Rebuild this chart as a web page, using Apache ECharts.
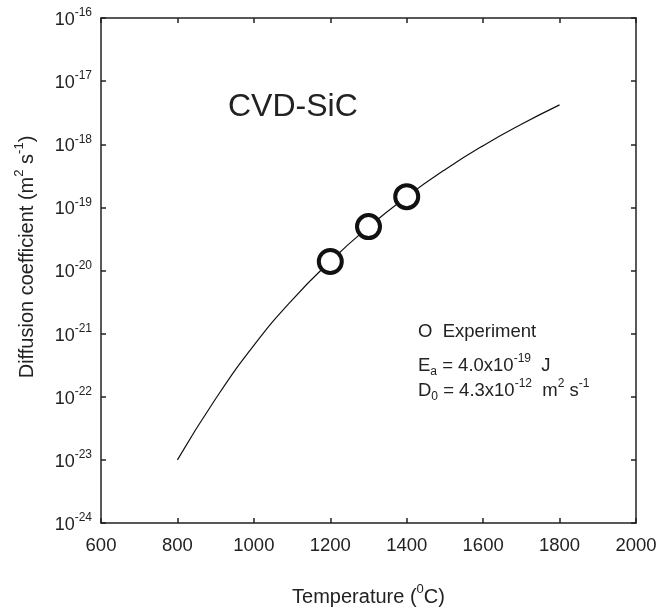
<!DOCTYPE html>
<html>
<head>
<meta charset="utf-8">
<script src="https://cdn.jsdelivr.net/npm/echarts@6/dist/echarts.min.js"></script>
<style>html,body{margin:0;padding:0;background:#fff}#c{width:667px;height:612px}</style>
</head>
<body>
<div id="c"></div>
<script>
// Fitted curve (m^2 s^-1)
const curveT = [800, 900, 1000, 1100, 1200, 1300, 1400, 1500, 1600, 1700, 1800];
const curveD = [1.0e-23, 9.3e-23, 6.5e-22, 3.4e-21, 1.4e-20, 4.9e-20, 1.48e-19, 3.96e-19, 9.5e-19, 2.07e-18, 4.2e-18];
// Experiment points
const expT = [1200, 1300, 1400];
const expD = [1.39e-20, 4.96e-20, 1.48e-19];
// Axis ranges / ticks
const xTicks = [600, 800, 1000, 1200, 1400, 1600, 1800, 2000];
const yExponents = [-24, -23, -22, -21, -20, -19, -18, -17, -16];

// ECharts v6 log axis fails with extents this small, so values are plotted
// in units of 10^yExponents[0] and the labels add that exponent back.
const E0 = yExponents[0];
const SCALE = Math.pow(10, -E0);

const FONT = 'Liberation Sans, Arial, sans-serif';
const chart = echarts.init(document.getElementById('c'));
const supRich = {
  b: {fontSize: 18, fontFamily: FONT, color: '#222', lineHeight: 22, verticalAlign: 'bottom'},
  s: {fontSize: 12, fontFamily: FONT, color: '#222', lineHeight: 22, verticalAlign: 'top'}
};
const nameRich = {
  b: {fontSize: 20, fontFamily: FONT, color: '#222', lineHeight: 24, verticalAlign: 'bottom'},
  s: {fontSize: 13, fontFamily: FONT, color: '#222', lineHeight: 24, verticalAlign: 'top'}
};
function expLabel(v) {
  const e = Math.round(Math.log10(v)) + E0;
  return '{b|10}{s|' + e + '}';
}
const axisLine = {show: true, lineStyle: {color: '#222', width: 1.5}};
const tick = {show: true, inside: true, length: 5, lineStyle: {color: '#222', width: 1.5}};
const yMin = Math.pow(10, yExponents[0] - E0);
const yMax = Math.pow(10, yExponents[yExponents.length - 1] - E0);

chart.setOption({
  animation: false,
  grid: {left: 101, top: 18, right: 31, bottom: 88},
  xAxis: [{
    type: 'value', min: xTicks[0], max: xTicks[xTicks.length - 1], interval: 200,
    axisLine: axisLine, axisTick: tick, splitLine: {show: false},
    axisLabel: {fontSize: 18.5, fontFamily: FONT, color: '#222', margin: 13, formatter: v => String(v)},
    name: '{b|Temperature (}{s|0}{b|C)}', nameLocation: 'middle', nameGap: 60,
    nameTextStyle: {rich: nameRich}
  }, {
    type: 'value', min: xTicks[0], max: xTicks[xTicks.length - 1], interval: 200, position: 'top',
    axisLine: axisLine, axisTick: tick, splitLine: {show: false}, axisLabel: {show: false}
  }],
  yAxis: [{
    type: 'log', logBase: 10, min: yMin, max: yMax,
    axisLine: axisLine, axisTick: tick, splitLine: {show: false}, minorTick: {show: false},
    axisLabel: {formatter: expLabel, rich: supRich, margin: 9},
    name: '{b|Diffusion coefficient (m}{s|2}{b| s}{s|-1}{b|)}', nameLocation: 'middle', nameGap: 64,
    nameRotate: 90,
    nameTextStyle: {rich: nameRich, padding: [0, 0, 0, 27]}
  }, {
    type: 'log', logBase: 10, min: yMin, max: yMax, position: 'right',
    axisLine: axisLine, axisTick: tick, splitLine: {show: false}, axisLabel: {show: false}
  }],
  series: [{
    type: 'line', data: curveT.map((t, i) => [t, curveD[i] * SCALE]), smooth: true,
    showSymbol: false, lineStyle: {color: '#111', width: 1.2}, z: 2
  }, {
    type: 'scatter', data: expT.map((t, i) => [t, expD[i] * SCALE]), symbol: 'circle', symbolSize: 23,
    itemStyle: {color: '#fff', borderColor: '#111', borderWidth: 4, opacity: 1}, z: 3
  }],
  graphic: [
    {type: 'text', left: 228, top: 91, style: {text: 'CVD-SiC', fontSize: 32, fontFamily: FONT, fill: '#222'}},
    {type: 'text', left: 418, top: 322, style: {text: 'O  Experiment', fontSize: 18.5, fontFamily: FONT, fill: '#222'}},
    {type: 'text', left: 418, top: 353, style: {
      text: '{b|E}{u|a}{b| = 4.0x10}{s|-19}{b|  J}',
      rich: {
        b: {fontSize: 18.5, fontFamily: FONT, fill: '#222', lineHeight: 25, verticalAlign: 'middle'},
        s: {fontSize: 12, fontFamily: FONT, fill: '#222', lineHeight: 25, verticalAlign: 'top'},
        u: {fontSize: 12, fontFamily: FONT, fill: '#222', lineHeight: 25, verticalAlign: 'bottom'}
      }}},
    {type: 'text', left: 418, top: 378, style: {
      text: '{b|D}{u|0}{b| = 4.3x10}{s|-12}{b|  m}{s|2}{b| s}{s|-1}',
      rich: {
        b: {fontSize: 18.5, fontFamily: FONT, fill: '#222', lineHeight: 25, verticalAlign: 'middle'},
        s: {fontSize: 12, fontFamily: FONT, fill: '#222', lineHeight: 25, verticalAlign: 'top'},
        u: {fontSize: 12, fontFamily: FONT, fill: '#222', lineHeight: 25, verticalAlign: 'bottom'}
      }}}
  ]
});
</script>
</body>
</html>
